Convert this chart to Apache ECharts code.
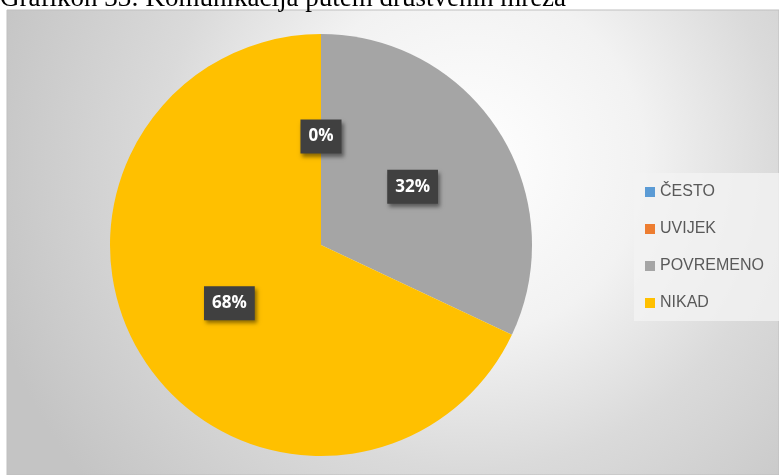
<!DOCTYPE html>
<html>
<head>
<meta charset="utf-8">
<script src="https://cdn.jsdelivr.net/npm/echarts@6/dist/echarts.min.js"></script>
<style>html,body{margin:0;padding:0;background:#fff;}#c{width:779px;height:475px;}</style>
</head>
<body>
<div id="c"></div>
<script>
const categories = ['ČESTO', 'UVIJEK', 'POVREMENO', 'NIKAD'];
const values = [0, 0, 32, 68];
const colors = ['#5B9BD5', '#ED7D31', '#A5A5A5', '#FFC000'];
const titleText = 'Grafikon 33: Komunikacija putem društvenih mreža';

const chart = echarts.init(document.getElementById('c'));
chart.setOption({
  animation: false,
  graphic: [
    {
      type: 'rect', z: -10, silent: true,
      shape: { x: 7, y: 10, width: 772, height: 465 },
      style: {
        fill: {
          type: 'radial', x: 470, y: 160, r: 500, global: true,
          colorStops: [
            { offset: 0, color: '#ffffff' },
            { offset: 0.35, color: '#f2f2f2' },
            { offset: 0.62, color: '#dadada' },
            { offset: 1, color: '#c4c4c4' }
          ]
        },
        stroke: '#bfbfbf', lineWidth: 1
      }
    },
    {
      type: 'text', z: 10, silent: true,
      x: 0, y: 12,
      style: {
        text: titleText,
        font: '27px "Liberation Serif"',
        fill: '#000',
        textVerticalAlign: 'bottom'
      }
    }
  ],
  legend: {
    orient: 'vertical',
    left: 634, top: 173,
    width: 160,
    padding: [11, 30, 10, 11],
    itemGap: 21,
    itemWidth: 10, itemHeight: 10,
    itemTextGap: 5,
    icon: 'rect',
    backgroundColor: 'rgba(242,242,242,0.8)',
    data: categories,
    textStyle: { color: '#595959', fontSize: 16, fontFamily: 'Liberation Sans', lineHeight: 16 }
  },
  series: [{
    type: 'pie',
    center: [321, 245],
    radius: 211,
    startAngle: 90,
    clockwise: true,
    avoidLabelOverlap: false,
    data: categories.map((c, i) => ({ name: c, value: values[i], itemStyle: { color: colors[i] } })),
    label: {
      show: true,
      position: 'inside',
      formatter: p => Math.round(p.percent) + '%',
      color: '#fff',
      fontWeight: 'bold',
      fontSize: 17,
      lineHeight: 18,
      fontFamily: 'Open Sans',
      backgroundColor: '#404040',
      padding: [8, 8, 8, 8],
      shadowColor: 'rgba(0,0,0,0.45)',
      shadowBlur: 4,
      shadowOffsetX: 2,
      shadowOffsetY: 3
    },
    labelLine: { show: false },
    emphasis: { disabled: true }
  }]
});
</script>
</body>
</html>
